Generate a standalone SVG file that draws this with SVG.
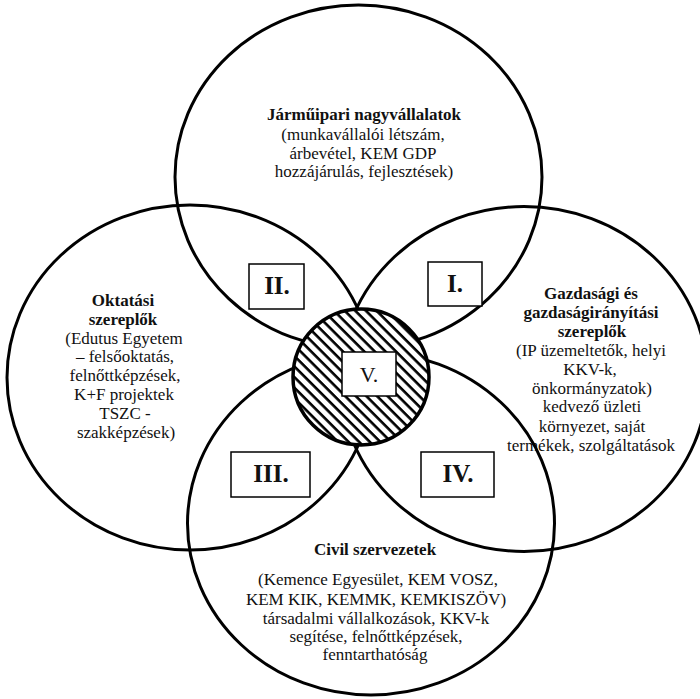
<svg xmlns="http://www.w3.org/2000/svg" width="700" height="699" viewBox="0 0 700 699">
<style>
text{font-family:"Liberation Serif",Tinos,"Times New Roman",Times,"Nimbus Roman","Nimbus Roman No9 L","Noto Serif","DejaVu Serif",FreeSerif,Georgia,serif}
.t{font-size:17px;fill:#111;text-anchor:middle}
.b{font-weight:bold}
.ring{fill:none;stroke:#000;stroke-width:3}
.box{fill:#fff;stroke:#000;stroke-width:1.5}
.lbl{font-size:25px;font-weight:bold;fill:#111;text-anchor:middle}
.v{font-size:22px;fill:#111;text-anchor:middle}
</style>
<defs>
<pattern id="hatch" patternUnits="userSpaceOnUse" width="7.5" height="7.5" patternTransform="rotate(-45)">
<rect width="7.5" height="7.5" fill="#fff"/>
<line x1="1.5" y1="0" x2="1.5" y2="7.5" stroke="#000" stroke-width="2.6"/>
</pattern>
</defs>
<rect width="700" height="699" fill="#fff"/>

<g id="text-top">
<text class="t b" x="364" y="120">Járműipari nagyvállalatok</text>
<text class="t" x="363" y="140">(munkavállalói létszám,</text>
<text class="t" x="363" y="159">árbevétel, KEM GDP</text>
<text class="t" x="364" y="177">hozzájárulás, fejlesztések)</text>
</g>
<g id="text-left">
<text class="t b" x="123" y="306">Oktatási</text>
<text class="t b" x="123" y="325">szereplők</text>
<text class="t" x="124" y="344">(Edutus Egyetem</text>
<text class="t" x="125" y="362">– felsőoktatás,</text>
<text class="t" x="125" y="381">felnőttképzések,</text>
<text class="t" x="124" y="400">K+F projektek</text>
<text class="t" x="125" y="419">TSZC -</text>
<text class="t" x="126" y="438">szakképzések)</text>
</g>
<g id="text-right">
<text class="t b" x="591" y="299">Gazdasági és</text>
<text class="t b" x="591" y="318">gazdaságirányítási</text>
<text class="t b" x="592" y="337">szereplők</text>
<text class="t" x="591" y="356">(IP üzemeltetők, helyi</text>
<text class="t" x="590" y="375">KKV-k,</text>
<text class="t" x="592" y="394">önkormányzatok)</text>
<text class="t" x="592" y="412">kedvező üzleti</text>
<text class="t" x="592" y="432">környezet, saját</text>
<text class="t" x="591" y="451">termékek, szolgáltatások</text>
</g>
<g id="text-bottom">
<text class="t b" x="375" y="555">Civil szervezetek</text>
<text class="t" x="378" y="585">(Kemence Egyesület, KEM VOSZ,</text>
<text class="t" x="376" y="605">KEM KIK, KEMMK, KEMKISZÖV)</text>
<text class="t" x="376" y="624">társadalmi vállalkozások, KKV-k</text>
<text class="t" x="376" y="642">segítése, felnőttképzések,</text>
<text class="t" x="375" y="660">fenntarthatóság</text>
</g>

<g id="circle-top"><ellipse class="ring" cx="358.5" cy="177" rx="183.5" ry="172"/></g>
<g id="circle-left"><ellipse class="ring" cx="190" cy="377.5" rx="183" ry="172.5"/></g>
<g id="circle-right"><ellipse class="ring" cx="524" cy="379" rx="183.5" ry="172.5"/></g>
<g id="circle-bottom"><ellipse class="ring" cx="371" cy="523.5" rx="183.5" ry="171.5"/></g>

<g id="center">
<circle cx="361" cy="377" r="68" fill="url(#hatch)" stroke="#000" stroke-width="3.5"/>
<rect class="box" x="342" y="352" width="54" height="44"/>
<text class="v" x="369" y="382">V.</text>
</g>
<g id="region-I">
<rect class="box" x="428" y="262" width="54" height="44"/>
<text class="lbl" x="455" y="292">I.</text>
</g>
<g id="region-II">
<rect class="box" x="249" y="264" width="55" height="45"/>
<text class="lbl" x="277" y="294">II.</text>
</g>
<g id="region-III">
<rect class="box" x="231" y="452" width="79" height="45"/>
<text class="lbl" x="271" y="482">III.</text>
</g>
<g id="region-IV">
<rect class="box" x="421" y="452" width="73" height="45"/>
<text class="lbl" x="458" y="482">IV.</text>
</g>
</svg>
